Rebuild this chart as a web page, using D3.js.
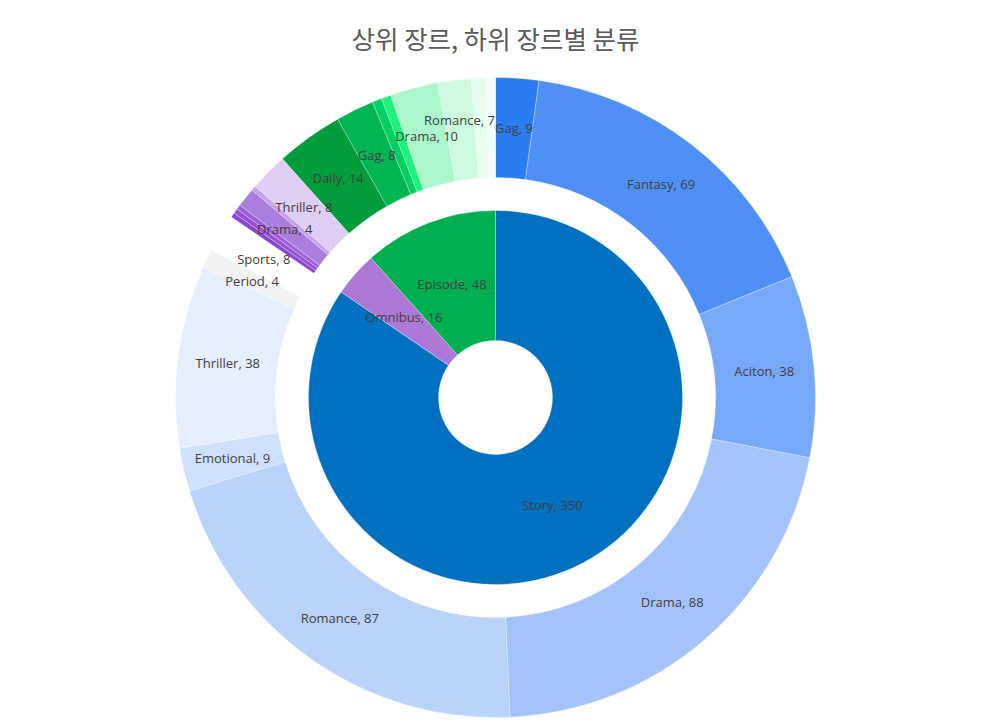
<!DOCTYPE html>
<html>
<head>
<meta charset="utf-8">
<script src="https://cdn.jsdelivr.net/npm/d3@7"></script>
<style>
  html, body { margin: 0; padding: 0; background: #ffffff; }
  svg { display: block; }
</style>
</head>
<body>
<svg id="chart" width="981" height="725"></svg>
<script>
// ---- data ----
const chartTitle = "상위 장르, 하위 장르별 분류";

const parentLabels = ["Story", "Omnibus", "Episode"];
const parentValues = [350, 16, 48];

const childParents = [
  "Story", "Story", "Story", "Story", "Story", "Story", "Story", "Story", "Story",
  "Omnibus", "Omnibus", "Omnibus", "Omnibus", "Omnibus", "Omnibus",
  "Episode", "Episode", "Episode", "Episode", "Episode", "Episode", "Episode", "Episode"
];
const childLabels = [
  "Gag", "Fantasy", "Aciton", "Drama", "Romance", "Emotional", "Thriller", "Period", "Sports",
  "Action", "Fantasy", "Gag", "Drama", "Romance", "Thriller",
  "Daily", "Gag", "Action", "Fantasy", "Drama", "Romance", "Thriller", "Emotional"
];
const childValues = [
  9, 69, 38, 88, 87, 9, 38, 4, 8,
  1, 1, 1, 4, 1, 8,
  14, 8, 2, 2, 10, 7, 3, 2
];

// ---- styles ----
const parentColors = ["#0070c0", "#ad78d8", "#00b050"];
const childColors = [
  "#2b7bf3", "#4f90f6", "#78a9f8", "#a4c3fa", "#b9d3fb", "#cfe0fc", "#e5eefd", "#f2f2f2", "#ffffff",
  "#8d44cf", "#9651d4", "#9e60d8", "#a97edd", "#c3a3e9", "#e0cdf2",
  "#009d3d", "#00b552", "#00d063", "#1ef27c", "#abf6ca", "#cdfadf", "#e6fdef", "#f4fff8"
];

const W = 981, H = 725;
const cx = 495.5, cy = 397.5;
const rHole = 57, rInner = 187, rOuterIn = 220, rOuter = 320;

const svg = d3.select("#chart");

svg.append("text")
  .attr("x", W / 2 + 5)
  .attr("y", 37)
  .attr("text-anchor", "middle")
  .attr("dominant-baseline", "central")
  .attr("font-family", "'Noto Sans CJK KR', 'Noto Sans', sans-serif")
  .attr("font-size", 25.5)
  .attr("fill", "#595959")
  .text(chartTitle);

const g = svg.append("g").attr("transform", `translate(${cx},${cy})`);

const pie = d3.pie().sort(null).value(d => d.value).startAngle(0).endAngle(2 * Math.PI);

const innerData = parentLabels.map((l, i) => ({ label: l, value: parentValues[i], color: parentColors[i] }));
const outerData = childLabels.map((l, i) => ({ label: l, parent: childParents[i], value: childValues[i], color: childColors[i] }));

const innerArc = d3.arc().innerRadius(rHole).outerRadius(rInner);
const outerArc = d3.arc().innerRadius(rOuterIn).outerRadius(rOuter);

const innerArcs = pie(innerData);
const outerArcs = pie(outerData);

g.selectAll("path.inner").data(innerArcs).join("path")
  .attr("class", "inner")
  .attr("d", innerArc)
  .attr("fill", d => d.data.color)
  .attr("stroke", "rgba(255,255,255,0.35)")
  .attr("stroke-width", 0.8);

g.selectAll("path.outer").data(outerArcs).join("path")
  .attr("class", "outer")
  .attr("d", outerArc)
  .attr("fill", d => d.data.color)
  .attr("stroke", "rgba(255,255,255,0.35)")
  .attr("stroke-width", 0.8);

const labelFont = "'Segoe UI', 'Open Sans', 'Noto Sans', sans-serif";

g.selectAll("text.inner").data(innerArcs).join("text")
  .attr("class", "inner")
  .attr("transform", d => `translate(${innerArc.centroid(d)})`)
  .attr("text-anchor", "middle")
  .attr("dominant-baseline", "central")
  .attr("font-family", labelFont)
  .attr("font-size", 13)
  .attr("fill", "#404040")
  .text(d => `${d.data.label}, ${d.data.value}`);

// outer labels: start at the arc centroid, then push smaller slices' labels outward if they collide
const shown = outerArcs.filter(d => d.data.value >= 4);
const outerText = g.selectAll("text.outer").data(shown).join("text")
  .attr("class", "outer")
  .attr("text-anchor", "middle")
  .attr("dominant-baseline", "central")
  .attr("font-family", labelFont)
  .attr("font-size", 13)
  .attr("fill", "#404040")
  .text(d => `${d.data.label}, ${d.data.value}`);

const rMid = (rOuterIn + rOuter) / 2;
const info = [];
outerText.each(function(d) {
  const bb = this.getBBox();
  d.w = bb.width; d.h = bb.height - 2;
  d.r = rMid;
  d.a = (d.startAngle + d.endAngle) / 2;
  info.push(d);
});
function pos(d) { return [Math.sin(d.a) * d.r, -Math.cos(d.a) * d.r]; }
function overlap(a, b) {
  const [ax, ay] = pos(a), [bx, by] = pos(b);
  return Math.abs(ax - bx) < (a.w + b.w) / 2 - 4 && Math.abs(ay - by) < (a.h + b.h) / 2;
}
const order = info.slice().sort((a, b) => a.value - b.value);
order.forEach(d => {
  let guard = 0;
  while (info.some(o => o !== d && overlap(d, o)) && guard < 40) { d.r += 1; guard++; }
});
outerText.attr("transform", d => `translate(${pos(d)})`);
</script>
</body>
</html>
